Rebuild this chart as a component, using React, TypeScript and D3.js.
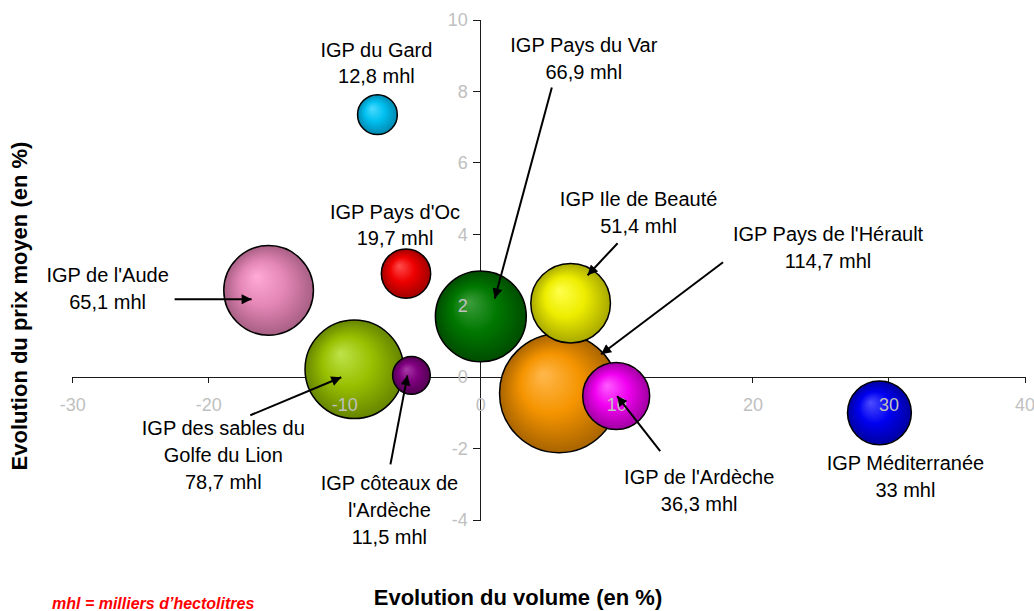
import React from "react";
import * as d3 from "d3";

// chart data
const regions = [
  "IGP Pays de l'Hérault",
  "IGP de l'Aude",
  "IGP des sables du\nGolfe du Lion",
  "IGP Pays du Var",
  "IGP Ile de Beauté",
  "IGP de l'Ardèche",
  "IGP côteaux de\nl'Ardèche",
  "IGP Pays d'Oc",
  "IGP du Gard",
  "IGP Méditerranée",
];
const volumeChange = [5.75, -15.6, -9.3, 0, 6.6, 9.95, -5.1, -5.5, -7.6, 29.3];
const priceChange = [-0.45, 2.43, 0.22, 1.7, 2.07, -0.53, 0.05, 2.9, 7.35, -1.0];
const volumes = [114.7, 65.1, 78.7, 66.9, 51.4, 36.3, 11.5, 19.7, 12.8, 33];

const xTicks = [-30, -20, -10, 0, 10, 20, 30, 40];
const yTicks = [-4, -2, 0, 2, 4, 6, 8, 10];

// light / base / dark shades for each bubble
const bubbleColors = [
  ["#ffb84d", "#f59400", "#a86400"],
  ["#ffaad6", "#e487b6", "#a85f84"],
  ["#bde34a", "#99c000", "#668500"],
  ["#3d9e3d", "#007800", "#004c00"],
  ["#ffff4d", "#eded00", "#a8a800"],
  ["#ff5cff", "#f000f0", "#a000a0"],
  ["#a83aa8", "#800080", "#520052"],
  ["#ff4d4d", "#ee0000", "#a00000"],
  ["#4ddbff", "#00c0f0", "#0088b0"],
  ["#4d4dff", "#0000f0", "#0000a0"],
];

// label placement (offset of label from bubble centre) and arrows, in px
const labelOffsets = [
  [269, -152], [-161, -8], [-131, 66], [103, -264], [68, -97],
  [83, 88], [-22, 115], [-11, -55], [-1, -58], [26, 57],
];
const arrows: (number[][] | null)[] = [
  [[164, -131], [42, -39]],
  [[-94, 9], [-17, 9]],
  [[-104, 46], [-13, 8]],
  [[71, -229], [14, -18]],
  [[47, -60], [17, -28]],
  [[44, 55], [1, 0]],
  [[-21, 89], [-4, 0]],
  null,
  null,
  null,
];

const W = 1034;
const H = 611;
const FONT = "'Liberation Sans', Arial, sans-serif";

export default function App() {
  const x = d3.scaleLinear().domain([-30, 40]).range([72.7, 1025]);
  const y = d3.scaleLinear().domain([-4, 10]).range([520, 20]);
  const r = d3.scaleSqrt().domain([0, d3.max(volumes) as number]).range([0, 59.5]);

  const fmt = (v: number) => String(v).replace(".", ",") + " mhl";

  return (
    <div style={{ position: "absolute", left: 0, top: 0 }}>
      <svg width={W} height={H} style={{ display: "block", background: "#fff" }} fontFamily={FONT}>
        <defs>
          {bubbleColors.map((c, i) => (
            <radialGradient key={i} id={`g${i}`} cx="0.5" cy="0.5" r="0.5" fx="0.36" fy="0.34">
              <stop offset="0" stopColor={c[0]} />
              <stop offset="0.5" stopColor={c[1]} />
              <stop offset="1" stopColor={c[2]} />
            </radialGradient>
          ))}
          <marker id="arrow" viewBox="0 0 10 10" refX="10" refY="5" markerWidth="11" markerHeight="10"
            markerUnits="userSpaceOnUse" orient="auto">
            <path d="M0,0 L10,5 L0,10 z" fill="#000" />
          </marker>
        </defs>

        {/* axes */}
        <g stroke="#1a1a1a" strokeWidth={1} shapeRendering="crispEdges">
          <line x1={x(-30)} x2={x(40)} y1={y(0)} y2={y(0)} />
          {xTicks.map((t) => (
            <line key={t} x1={x(t)} x2={x(t)} y1={y(0)} y2={y(0) + 6} />
          ))}
          <line x1={x(0)} x2={x(0)} y1={y(10)} y2={y(-4)} />
          {yTicks.map((t) => (
            <line key={t} x1={x(0) - 8} x2={x(0)} y1={y(t)} y2={y(t)} />
          ))}
        </g>

        {/* bubbles */}
        {regions.map((name, i) => (
          <circle key={name} cx={x(volumeChange[i])} cy={y(priceChange[i])} r={r(volumes[i])}
            fill={`url(#g${i})`} stroke="#000" strokeWidth={1.5} />
        ))}

        {/* tick labels sit on top */}
        <g fill="#c0c0c0" fontSize={18}>
          {xTicks.map((t) => (
            <text key={t} x={x(t)} y={y(0) + 34} textAnchor="middle">{t}</text>
          ))}
          {yTicks.map((t) => (
            <text key={t} x={x(0) - 13} y={y(t)} dy="0.35em" textAnchor="end">{t}</text>
          ))}
        </g>

        {/* arrows */}
        {regions.map((name, i) => {
          const a = arrows[i];
          if (!a) return null;
          const cx = x(volumeChange[i]);
          const cy = y(priceChange[i]);
          return (
            <line key={name} x1={cx + a[0][0]} y1={cy + a[0][1]} x2={cx + a[1][0]} y2={cy + a[1][1]}
              stroke="#000" strokeWidth={2} markerEnd="url(#arrow)" />
          );
        })}

        {/* labels */}
        {regions.map((name, i) => {
          const lx = x(volumeChange[i]) + labelOffsets[i][0];
          const ly = y(priceChange[i]) + labelOffsets[i][1];
          const lines = [...name.split("\n"), fmt(volumes[i])];
          return (
            <text key={name} x={lx} y={ly} textAnchor="middle" fontSize={20} fill="#000">
              {lines.map((l, j) => (
                <tspan key={j} x={lx} y={ly + j * 26.8}>{l}</tspan>
              ))}
            </text>
          );
        })}

        {/* axis titles */}
        <text x={518} y={605} textAnchor="middle" fontSize={22} fontWeight="bold">
          Evolution du volume (en %)
        </text>
        <text transform="translate(27,306) rotate(-90)" textAnchor="middle" fontSize={22} fontWeight="bold">
          Evolution du prix moyen (en %)
        </text>

        <text x={52} y={609} fontSize={16} fontWeight="bold" fontStyle="italic" fill="#ff0000">
          mhl = milliers d’hectolitres
        </text>
      </svg>
    </div>
  );
}
